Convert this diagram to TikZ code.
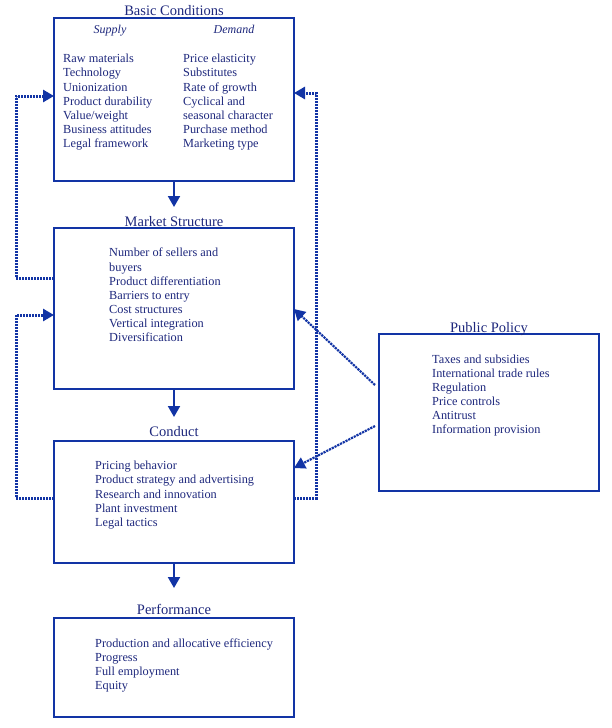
\documentclass[tikz,border=0pt]{standalone}
\usepackage{fontspec}
\setmainfont{Liberation Serif}
\usetikzlibrary{arrows.meta,calc}
\definecolor{lineblue}{RGB}{18,52,165}
\definecolor{textblue}{RGB}{30,40,125}
\begin{document}
\begin{tikzpicture}[x=1pt,y=-1pt,
  box/.style={draw=lineblue,line width=2.6pt,anchor=north west,inner sep=0pt,outer sep=0pt,minimum width=240pt},
  ttl/.style={anchor=base,inner sep=0pt,text=textblue,font=\fontsize{14.5}{16}\selectfont},
  items/.style={anchor=north west,inner sep=0pt,align=left,text=textblue,font=\fontsize{12.3}{14.15}\selectfont},
  hdr/.style={anchor=base,inner sep=0pt,text=textblue,font=\fontsize{12}{14}\selectfont\itshape},
  arr/.style={draw=lineblue,line width=2pt,-{Triangle[length=11pt,width=12pt]}},
  fb/.style={draw=lineblue,line width=3pt,dash pattern=on 2pt off 1pt,-{Triangle[length=11pt,width=12pt]}},
  pol/.style={draw=lineblue,line width=2.2pt,dash pattern=on 2.2pt off 0.9pt,-{Triangle[length=11pt,width=12pt]}}]
\useasboundingbox (0,0) rectangle (612,728);
\fill[white] (0,0) rectangle (612,728);

% boxes
\node[box,minimum height=163pt] (basic) at (54,18) {};
\node[box,minimum height=161pt] (ms) at (54,228) {};
\node[box,minimum height=122pt] (cond) at (54,441) {};
\node[box,minimum height=99pt] (perf) at (54,618) {};
\node[box,minimum width=220pt,minimum height=157pt] (pp) at (379,334) {};

% titles
\node[ttl] (tbasic) at (174,15) {Basic Conditions};
\node[ttl] (tms) at (174,226.5) {Market Structure};
\node[ttl] (tcond) at (174,436) {Conduct};
\node[ttl] (tperf) at (174,614) {Performance};
\node[ttl] (tpp) at (489,332) {Public Policy};

% contents
\node[hdr] (sup) at (110,33) {Supply};
\node[hdr] (dem) at (234,33) {Demand};
\node[items] (supl) at (63,54) {Raw materials\\Technology\\Unionization\\Product durability\\Value/weight\\Business attitudes\\Legal framework};
\node[items] (deml) at (183,54) {Price elasticity\\Substitutes\\Rate of growth\\Cyclical and\\seasonal character\\Purchase method\\Marketing type};
\node[items] (msl) at (109,248) {Number of sellers and\\buyers\\Product differentiation\\Barriers to entry\\Cost structures\\Vertical integration\\Diversification};
\node[items] (condl) at (95,461) {Pricing behavior\\Product strategy and advertising\\Research and innovation\\Plant investment\\Legal tactics};
\node[items] (perfl) at (95,638.5) {Production and allocative efficiency\\Progress\\Full employment\\Equity};
\node[items] (ppl) at (432,354.5) {Taxes and subsidies\\International trade rules\\Regulation\\Price controls\\Antitrust\\Information provision};

% main arrows
\coordinate (a1) at (174,207);
\coordinate (a2) at (174,417);
\coordinate (a3) at (174,588);
\draw[arr] (basic.south) -- (a1);
\draw[arr] (ms.south) -- (a2);
\draw[arr] (cond.south) -- (a3);

% feedback loops
\coordinate (la) at (16,278);
\coordinate (lb) at (16,96);
\coordinate (lc) at (16,498);
\coordinate (ld) at (16,315);
\coordinate (ra) at (316,498);
\coordinate (rb) at (316,93);
\draw[fb] (la -| ms.west) -- (la) -- (lb) -- (lb -| basic.west);
\draw[fb] (lc -| cond.west) -- (lc) -- (ld) -- (ld -| ms.west);
\draw[fb] (ra -| cond.east) -- (ra) -- (rb) -- (rb -| basic.east);

% public policy arrows
\coordinate (pa) at (375,385);
\coordinate (pb) at (375,426);
\draw[pol] (pa) -- ($(ms.north east)+(0,81)$);
\draw[pol] (pb) -- ($(cond.north east)+(0,27)$);
\end{tikzpicture}
\end{document}
